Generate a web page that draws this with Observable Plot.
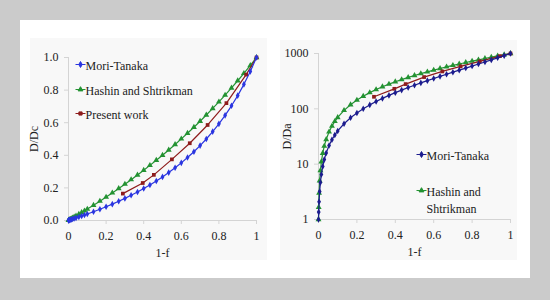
<!DOCTYPE html>
<html><head><meta charset="utf-8">
<script src="https://cdn.jsdelivr.net/npm/d3@7"></script>
<script src="https://cdn.jsdelivr.net/npm/@observablehq/plot@0.6"></script>
<style>
html,body{margin:0;padding:0;}
body{width:550px;height:300px;background:#cbcbcb;position:relative;overflow:hidden;font-family:"Liberation Serif","DejaVu Serif",serif;}
#panel{position:absolute;left:20px;top:20px;width:510px;height:258px;background:#fff;}
.area{position:absolute;background:#f8f8f8;}
#left{position:absolute;left:20px;top:20px;}
#right{position:absolute;left:275px;top:20px;}
svg text, svg tspan{font-family:"Liberation Serif","DejaVu Serif",serif !important;}
</style></head><body>
<div id="panel"></div>
<div class="area" style="left:30px;top:38px;width:237px;height:222px"></div>
<div class="area" style="left:280px;top:40px;width:237px;height:220px"></div>
<div id="left"></div><div id="right"></div>
<script>
// ---- data ----
const oneMinusF = [0, 0.001, 0.003, 0.006, 0.01, 0.015, 0.022, 0.03, 0.04, 0.055, 0.07, 0.085, 0.1, 0.133, 0.167, 0.2, 0.233, 0.267, 0.3, 0.333, 0.367, 0.4, 0.433, 0.467, 0.5, 0.533, 0.567, 0.6, 0.633, 0.667, 0.7, 0.733, 0.767, 0.8, 0.833, 0.867, 0.9, 0.933, 0.967, 1];
// D/Da values
const moriTanaka = [1, 1.36, 2.09, 3.19, 4.66, 6.5, 9.11, 12.1, 15.9, 21.7, 27.6, 33.6, 39.8, 53.8, 68.9, 84.3, 100.4, 117.8, 135.7, 154.5, 174.9, 195.9, 218.1, 242.4, 267.4, 294, 323.2, 353.6, 386.1, 422, 459.6, 500.1, 545.3, 593, 645, 703.6, 766.2, 835.3, 914.3, 1000];
const hashinShtrikman = [1, 1.67, 3.0, 5.01, 7.69, 11.05, 15.8, 21.2, 28, 38.3, 48.8, 59.3, 69.9, 93.7, 118.8, 143.8, 169.3, 196.3, 223.1, 250.6, 279.6, 308.5, 338.1, 369.5, 400.7, 432.8, 466.7, 500.6, 535.4, 572.3, 609.2, 647.1, 687.4, 727.6, 769.1, 813.2, 857.3, 902.9, 951.4, 1000];
const presentX = [0.289, 0.395, 0.454, 0.55, 0.645, 0.74, 0.84, 0.945, 1.0];
const presentWork = [165, 230, 280, 375, 474, 586, 720, 895, 1000];
const dcOverDa = 1000;

const xTicks = [0, 0.2, 0.4, 0.6, 0.8, 1];
const xTickLabels = ["0", "0.2", "0.4", "0.6", "0.8", "1"];
const yTicksLeft = [0, 0.2, 0.4, 0.6, 0.8, 1];
const yTickLabelsLeft = ["0.0", "0.2", "0.4", "0.6", "0.8", "1.0"];
const yTicksRight = [1, 10, 100, 1000];
const yTickLabelsRight = ["1", "10", "100", "1000"];
const legendLeft = ["Mori-Tanaka", "Hashin and Shtrikman", "Present work"];
const legendRight = ["Mori-Tanaka", "Hashin and\nShtrikman"];
const xLabel = "1-f";
const yLabelLeft = "D/Dc";
const yLabelRight = "D/Da";

// ---- tables ----
const mtRows = oneMinusF.map((x, i) => ({x, da: moriTanaka[i], dc: moriTanaka[i] / dcOverDa}));
const hsRows = oneMinusF.map((x, i) => ({x, da: hashinShtrikman[i], dc: hashinShtrikman[i] / dcOverDa}));
const pwRows = presentX.map((x, i) => ({x, da: presentWork[i], dc: presentWork[i] / dcOverDa}));

const font = "Liberation Serif, DejaVu Serif, serif";
const axisGrey = "#d4d4d4";
const textCol = "#222";
const green = "#239232", red = "#8e1c1c";

function legendSym(base) {
  return {draw(ctx, size) { ctx.moveTo(-5, 0); ctx.lineTo(5, 0); base.draw(ctx, size); }};
}
const symDiamond = d3.symbolDiamond, symTri = d3.symbolTriangle, symSquare = d3.symbolSquare;

function seriesMarks(rows, yKey, color, sym, r) {
  return [
    Plot.line(rows, {x: "x", y: yKey, stroke: color, strokeWidth: 1.2}),
    Plot.dot(rows, {x: "x", y: yKey, symbol: sym, fill: color, r})
  ];
}

function legendMarks(names, colors, syms, dx, dys, textDys) {
  return names.flatMap((name, i) => [
    Plot.dot([name], {frameAnchor: "top-left", dx, dy: dys[i], symbol: legendSym(syms[i]), fill: colors[i], stroke: colors[i], strokeWidth: 1, r: 1.8}),
    Plot.text([name], {frameAnchor: "top-left", dx: dx + 5, dy: textDys[i], text: d => d, textAnchor: "start", lineAnchor: "middle", lineHeight: 1.42, fontSize: 12, fontFamily: font, fill: textCol})
  ]);
}

const blueL = "#2a35e0";
const left = Plot.plot({
  width: 255, height: 258,
  marginLeft: 48, marginRight: 19, marginTop: 37, marginBottom: 58,
  style: {background: "transparent", fontFamily: font, fontSize: "12px", color: textCol, overflow: "visible"},
  x: {domain: [0, 1]},
  y: {domain: [0, 1]},
  marks: [
    Plot.ruleY([0], {stroke: axisGrey}),
    Plot.ruleX([0], {stroke: axisGrey}),
    Plot.axisX({ticks: xTicks, tickFormat: d => xTickLabels[xTicks.indexOf(d)], tickSize: 4, tickPadding: 7, stroke: axisGrey, fill: textCol, fontSize: 12,
      label: xLabel, labelAnchor: "center", labelOffset: 36, labelArrow: "none"}),
    Plot.axisY({ticks: yTicksLeft, tickFormat: d => yTickLabelsLeft[yTicksLeft.indexOf(d)], tickSize: 4, tickPadding: 6, stroke: axisGrey, fill: textCol, fontSize: 12,
      label: yLabelLeft, labelAnchor: "center", labelOffset: 39, labelArrow: "none"}),
    ...seriesMarks(hsRows, "dc", green, "triangle", 2.2),
    ...seriesMarks(pwRows, "dc", red, "square", 2.1),
    ...seriesMarks(mtRows, "dc", blueL, "diamond", 2.0),
    ...legendMarks(legendLeft, [blueL, green, red], [symDiamond, symTri, symSquare], 12, [7, 32, 56], [7, 32, 56])
  ]
});
document.getElementById("left").append(left);

const blueR = "#1c1c8e";
const right = Plot.plot({
  width: 255, height: 258,
  marginLeft: 43, marginRight: 20, marginTop: 33, marginBottom: 59,
  style: {background: "transparent", fontFamily: font, fontSize: "12px", color: textCol, overflow: "visible"},
  x: {domain: [0, 1]},
  y: {type: "log", domain: [1, 1000]},
  marks: [
    Plot.ruleY([1], {stroke: axisGrey}),
    Plot.ruleX([0], {stroke: axisGrey}),
    Plot.axisX({ticks: xTicks, tickFormat: d => xTickLabels[xTicks.indexOf(d)], tickSize: 4, tickPadding: 7, stroke: axisGrey, fill: textCol, fontSize: 12,
      label: xLabel, labelAnchor: "center", labelOffset: 36, labelArrow: "none"}),
    Plot.axisY({ticks: yTicksRight, tickFormat: d => yTickLabelsRight[yTicksRight.indexOf(d)], tickSize: 4, tickPadding: 6, stroke: axisGrey, fill: textCol, fontSize: 12,
      label: yLabelRight, labelAnchor: "center", labelOffset: 36, labelArrow: "none"}),
    ...seriesMarks(hsRows, "da", green, "triangle", 2.2),
    ...seriesMarks(pwRows, "da", red, "square", 2.1),
    ...seriesMarks(mtRows, "da", blueR, "diamond", 2.0),
    ...legendMarks(legendRight, [blueR, green], [symDiamond, symTri], 103, [101, 137], [101, 145.5])
  ]
});
document.getElementById("right").append(right);
</script>
</body></html>
